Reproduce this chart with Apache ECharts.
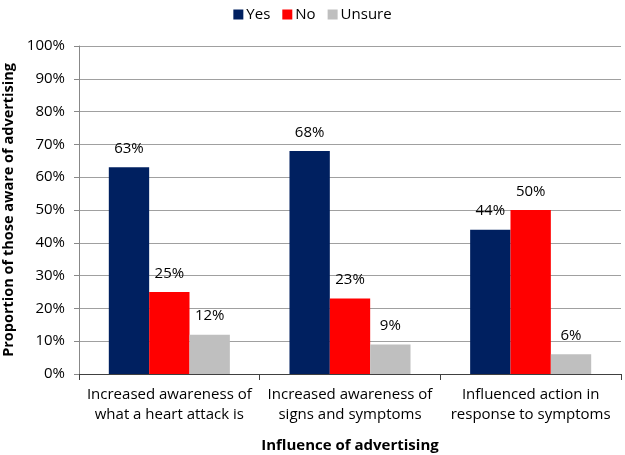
<!DOCTYPE html>
<html>
<head>
<meta charset="utf-8">
<script src="https://cdn.jsdelivr.net/npm/echarts@6/dist/echarts.min.js"></script>
<style>html,body{margin:0;padding:0;background:#fff;}#c{width:625px;height:455px;}</style>
</head>
<body>
<div id="c"></div>
<script>
const categories = ['Increased awareness of\nwhat a heart attack is', 'Increased awareness of\nsigns and symptoms', 'Influenced action in\nresponse to symptoms'];
const yesValues = [63, 68, 44];
const noValues = [25, 23, 50];
const unsureValues = [12, 9, 6];
const seriesNames = ['Yes', 'No', 'Unsure'];
const colors = ['#002060', '#FF0000', '#BFBFBF'];

const FONT = '"Open Sans", "Noto Sans", sans-serif';
const chart = echarts.init(document.getElementById('c'));
const label = {show: true, position: 'top', distance: 11, formatter: '{c}%', color: '#000', fontSize: 15, fontFamily: FONT};
chart.setOption({
  animation: false,
  textStyle: {fontFamily: FONT},
  legend: {
    top: 2, left: 'center', itemWidth: 10, itemHeight: 10, itemGap: 12,
    icon: 'rect',
    textStyle: {fontSize: 15, color: '#000', fontFamily: FONT, padding: [0,0,0,-2]},
    data: seriesNames
  },
  grid: {left: 79, right: 4, top: 46, bottom: 81, containLabel: false, outerBoundsMode: 'none'},
  xAxis: {
    type: 'category', data: categories,
    axisLine: {lineStyle: {color: '#404040', width: 1}},
    axisTick: {show: true, length: 6, lineStyle: {color: '#404040'}},
    axisLabel: {color: '#000', fontSize: 15, lineHeight: 20, margin: 11, fontFamily: FONT, interval: 0},
    name: 'Influence of advertising', nameLocation: 'middle', nameGap: 64,
    nameTextStyle: {fontSize: 15, fontWeight: 'bold', color: '#000', fontFamily: FONT}
  },
  yAxis: {
    type: 'value', min: 0, max: 100, interval: 10,
    axisLine: {show: true, lineStyle: {color: '#888', width: 1}},
    axisTick: {show: true, length: 5, lineStyle: {color: '#888'}},
    splitLine: {lineStyle: {color: '#A0A0A0', width: 1}},
    axisLabel: {formatter: '{value}%', color: '#000', fontSize: 15, margin: 14, fontFamily: FONT},
    name: 'Proportion of those aware of advertising', nameLocation: 'middle', nameGap: 59,
    nameTextStyle: {fontSize: 14.5, fontWeight: 'bold', color: '#000', fontFamily: FONT}
  },
  series: [
    {name: seriesNames[0], type: 'bar', data: yesValues, itemStyle: {color: colors[0]}, barGap: '0%', barCategoryGap: '33%', label},
    {name: seriesNames[1], type: 'bar', data: noValues, itemStyle: {color: colors[1]}, label},
    {name: seriesNames[2], type: 'bar', data: unsureValues, itemStyle: {color: colors[2]}, label}
  ]
});
</script>
</body>
</html>
